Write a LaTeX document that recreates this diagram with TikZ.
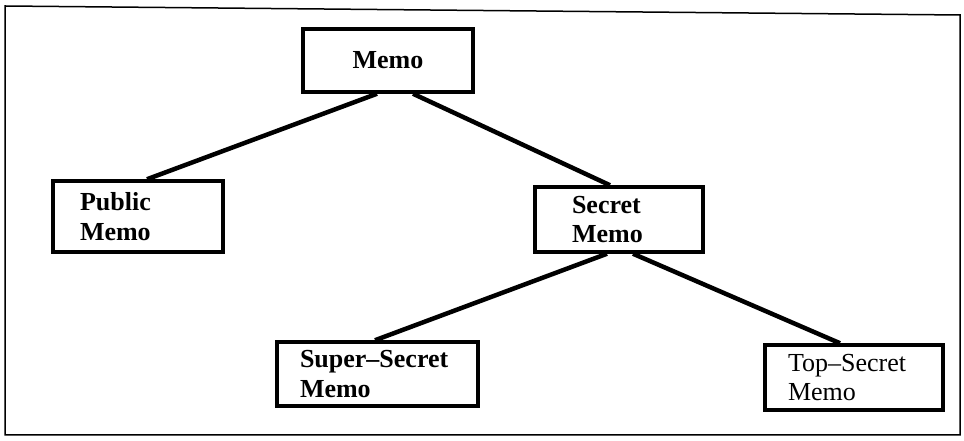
\documentclass[tikz,border=0pt]{standalone}
\usepackage{fontspec}
\setmainfont{Liberation Serif}
\begin{document}
\begin{tikzpicture}[x=1pt, y=1pt, every node/.style={draw, line width=3.5pt, align=left, inner ysep=0pt, font=\fontsize{26}{29.5}\selectfont\bfseries}]
\useasboundingbox (0,0) rectangle (964,441);
\draw[line width=1.5pt] (5,6) -- (5,435) -- (960,426) -- (960,6) -- cycle;
% Nodes
\node[text width=116pt, inner xsep=27pt, minimum height=63pt, align=center] (memo) at (388,380.5) {Memo};
\node[text width=116pt, inner xsep=27pt, minimum height=71pt] (public) at (138,224.5) {Public\\Memo};
\node[text width=94pt, inner xsep=37pt, minimum height=65pt] (secret) at (619,221.5) {Secret\\Memo};
\node[text width=155pt, inner xsep=23pt, minimum height=64pt] (supersecret) at (377.5,67) {Super--Secret\\Memo};
\node[text width=132pt, inner xsep=23pt, minimum height=65pt, font=\fontsize{26}{29.5}\selectfont] (topsecret) at (854,63.5) {Top--Secret\\Memo};

% Lines
\draw[line width=4.5pt] ([xshift=-11pt]memo.south) -- ([xshift=9pt]public.north);
\draw[line width=4.5pt] ([xshift=25pt]memo.south) -- ([xshift=-9pt]secret.north);
\draw[line width=4.5pt] ([xshift=-12pt]secret.south) -- ([xshift=-2.5pt]supersecret.north);
\draw[line width=4.5pt] ([xshift=14pt]secret.south) -- ([xshift=-14pt]topsecret.north);

\end{tikzpicture}
\end{document}
